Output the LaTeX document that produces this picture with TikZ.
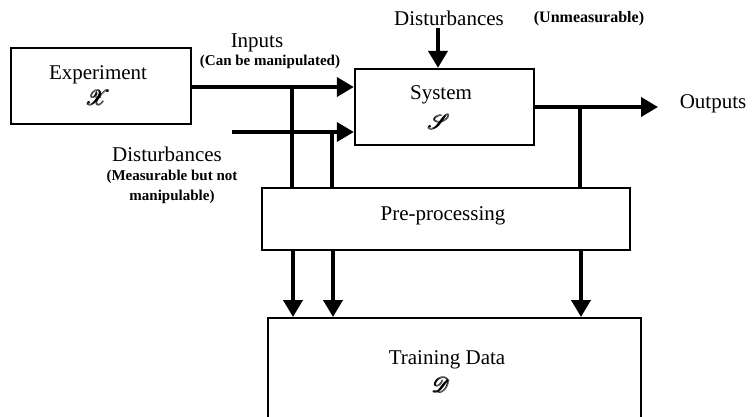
\documentclass[tikz,border=0pt]{standalone}
\usepackage{fontspec}
\setmainfont{Liberation Serif}
\usepackage{mathrsfs}
\usepackage{amsmath}
\usetikzlibrary{arrows.meta,calc}
\tikzset{
  box/.style={draw=black, line width=2.3pt, rectangle, inner sep=0pt, fill=white},
  big/.style={font=\fontsize{21}{22}\selectfont},
  symb/.style={font=\fontsize{22}{24}\selectfont, inner sep=0pt},
  small/.style={font=\fontsize{15}{20}\selectfont\bfseries, align=center, inner sep=0pt},
  flow/.style={line width=3.8pt, -{Triangle[length=17pt,width=19pt]}},
  wire/.style={line width=3.8pt},
}
\begin{document}
\begin{tikzpicture}[x=1pt,y=-1pt]
\useasboundingbox (0,0) rectangle (753,416);
\begin{scope}
\clip (0,0) rectangle (753,416);
% boxes
\node[box, minimum width=180pt, minimum height=76pt] (exp) at (101,86) {};
\node[big, inner sep=0pt] (explbl) at (98,75) {Experiment};
\node[symb] (expsym) at (98,98) {$\pmb{\mathscr{X}}$};

\node[box, minimum width=179pt, minimum height=76pt] (sys) at (444.5,107) {};
\node[big, inner sep=0pt] (syslbl) at (441,95) {System};
\node[symb] (syssym) at (439,122) {$\pmb{\mathscr{S}}$};

\node[box, minimum width=368pt, minimum height=62pt] (pre) at (446,219) {};
\node[big, inner sep=0pt] (prelbl) at (443,216) {Pre-processing};

\node[box, minimum width=373pt, minimum height=140pt, anchor=north west] (train) at (267,317) {};
\node[big, inner sep=0pt] (trainlbl) at (447,360) {Training Data};
\node[symb] (trainsym) at (441,385) {$\pmb{\mathscr{D}}$};

% labels
\node[big, inner sep=0pt] (inlbl) at (257,43) {Inputs};
\node[small] (insub) at (270,62) {(Can be manipulated)};
\node[big, inner sep=0pt] (d2lbl) at (167,154) {Disturbances};
\node[small] (d2sub) at (172,187) {(Measurable but not\\manipulable)};
\node[big, inner sep=0pt] (d1lbl) at (449,18) {Disturbances};
\node[small, font=\fontsize{16}{20}\selectfont\bfseries] (d1sub) at (589,19) {(Unmeasurable)};
\node[big, inner sep=0pt] (outlbl) at (713,104) {Outputs};

% coordinates
\coordinate (j1) at (292,87);
\coordinate (d2s) at (232,132);
\coordinate (j2) at (332,132);
\coordinate (d1s) at (438,28);
\coordinate (j3) at (580,107);
\coordinate (outend) at (658,107);
\coordinate (p1) at (293,250);
\coordinate (p2) at (333,250);
\coordinate (p3) at (581,250);

% connectors
\draw[wire] (j1) -- (j1 |- pre.north);
\draw[wire] (j2) -- (j2 |- pre.north);
\draw[wire] (j3) -- (j3 |- pre.north);
\draw[flow] (exp.east |- j1) -- (j1 -| sys.west);
\draw[flow] (d2s) -- (d2s -| sys.west);
\draw[flow] (d1s) -- (d1s |- sys.north);
\draw[flow] (sys.east) -- (outend);
\draw[flow] (p1 |- pre.south) -- (p1 |- train.north);
\draw[flow] (p2 |- pre.south) -- (p2 |- train.north);
\draw[flow] (p3 |- pre.south) -- (p3 |- train.north);
\end{scope}
\end{tikzpicture}
\end{document}
